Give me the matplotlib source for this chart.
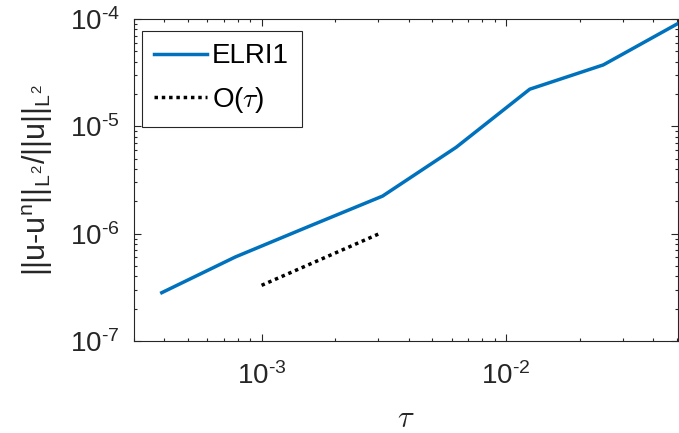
import math

import matplotlib
matplotlib.use('Agg')
import matplotlib.pyplot as plt
from matplotlib.font_manager import FontProperties
from matplotlib.ticker import FuncFormatter, LogLocator, NullFormatter

# step sizes and relative L2 errors
tau = [0.000390625, 0.00078125, 0.0015625, 0.003125, 0.00625, 0.0125, 0.025, 0.05]
err = [2.82e-7, 6.07e-7, 1.17e-6, 2.24e-6, 6.38e-6, 2.22e-5, 3.74e-5, 8.98e-5]

# reference slope line O(tau)
ref_tau = [1e-3, 3e-3]
ref_err = [3.3e-7, 9.9e-7]

plt.rcParams['font.family'] = ['Liberation Sans', 'DejaVu Sans']
plt.rcParams['mathtext.fontset'] = 'custom'
plt.rcParams['mathtext.rm'] = 'Liberation Sans'
plt.rcParams['mathtext.it'] = 'Liberation Sans'

axcol = '#262626'

fig = plt.figure(figsize=(6.79, 4.33), dpi=100)
ax = fig.add_axes([0.197, 0.2125, 0.8015, 0.7435])

ax.loglog(tau, err, color='#0072BD', lw=2.5, label='ELRI1')
ax.loglog(ref_tau, ref_err, color='k', lw=2.5, ls=(0, (1, 1.1)), label=r'O($\tau$)')

ax.set_xlim(3e-4, 0.0505)
ax.set_ylim(1e-7, 1e-4)

ax.xaxis.set_major_locator(LogLocator(base=10, numticks=10))
ax.yaxis.set_major_locator(LogLocator(base=10, numticks=10))
ax.xaxis.set_minor_locator(LogLocator(base=10, subs=range(2, 10), numticks=20))
ax.yaxis.set_minor_locator(LogLocator(base=10, subs=range(2, 10), numticks=20))
ax.xaxis.set_minor_formatter(NullFormatter())
ax.yaxis.set_minor_formatter(NullFormatter())


def fmt(v, pos):
    e = int(round(math.log10(v)))
    return r'10$^{\text{-}%d}$' % (-e)


ax.xaxis.set_major_formatter(FuncFormatter(fmt))
ax.yaxis.set_major_formatter(FuncFormatter(fmt))

ax.tick_params(which='both', direction='in', top=True, right=True, color=axcol,
               labelcolor=axcol, labelsize=20, width=0.8)
ax.tick_params(which='major', length=5)
ax.tick_params(which='minor', length=2.5)
ax.tick_params(axis='x', which='major', pad=15)
ax.tick_params(axis='y', which='major', pad=10)
for sp in ax.spines.values():
    sp.set_color(axcol)
    sp.set_linewidth(0.8)

ax.set_xlabel(r'$\tau$', fontsize=22, color=axcol, math_fontfamily='cm', labelpad=10)
ax.set_ylabel(r'||u-u$^n$||$_{L^2}$/||u||$_{L^2}$', fontsize=22, color=axcol, labelpad=11)

prop = FontProperties(family='Liberation Sans', size=20, math_fontfamily='cm')
leg = ax.legend(loc='upper left', bbox_to_anchor=(0.0147, 0.963), borderaxespad=0,
                prop=prop, handlelength=1.9, handletextpad=0.18,
                borderpad=0.45, labelspacing=0.55, fancybox=False, framealpha=1)
leg.get_frame().set_edgecolor(axcol)
leg.get_frame().set_linewidth(0.8)

fig.savefig('out.png', dpi=100)
